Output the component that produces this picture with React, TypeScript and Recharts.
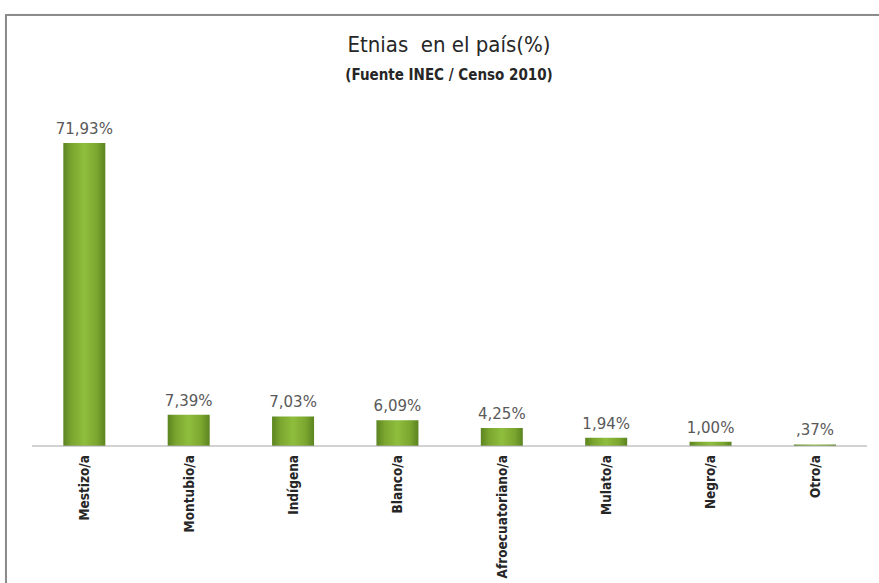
import React from "react";
import { BarChart, Bar, XAxis, YAxis, LabelList } from "recharts";

const categories = [
    "Mestizo/a",
    "Montubio/a",
    "Indígena",
    "Blanco/a",
    "Afroecuatoriano/a",
    "Mulato/a",
    "Negro/a",
    "Otro/a",
];

const percentages = [71.93, 7.39, 7.03, 6.09, 4.25, 1.94, 1.0, 0.37];

const data = categories.map((name, i) => ({ name, value: percentages[i] }));

// "0,37%" is written ",37%" in the source chart
const formatPct = (v: number) => v.toFixed(2).replace(".", ",").replace(/^0,/, ",") + "%";

const CategoryTick = (props: any) => {
    const { x, y, payload } = props;
    return (
        <g transform={`translate(${x},${y + 1})`}>
            <text
                transform="rotate(-90)"
                textAnchor="end"
                dy={5}
                fill="#262626"
                fontSize={13.5}
                fontWeight="bold"
                fontFamily="'DejaVu Sans Condensed', 'DejaVu Sans', sans-serif"
            >
                {payload.value}
            </text>
        </g>
    );
};

const EtniasChart = () => {
    return (
        <div style={{ position: "absolute", left: 0, top: 0, width: 879, height: 583, background: "#fff", overflow: "hidden" }}>
            <div
                style={{
                    position: "absolute",
                    left: 5,
                    top: 14,
                    width: 900,
                    height: 600,
                    border: "2px solid #8c8c8c",
                    boxShadow: "1px 1px 2px #bbb",
                }}
            />
            <div
                style={{
                    position: "absolute",
                    left: 0,
                    width: 898,
                    top: 31,
                    textAlign: "center",
                    fontFamily: "'DejaVu Sans Condensed', 'DejaVu Sans', sans-serif",
                    color: "#262626",
                    whiteSpace: "pre",
                }}
            >
                <div style={{ fontSize: 22, lineHeight: "28px" }}>Etnias  en el país(%)</div>
                <div style={{ fontSize: 15, fontWeight: "bold", lineHeight: "32px" }}>(Fuente INEC / Censo 2010)</div>
            </div>
            <BarChart
                style={{ position: "absolute", left: 0, top: 0 }}
                width={879}
                height={583}
                data={data}
                margin={{ top: 109, right: 12, left: 32, bottom: 107 }}
                barCategoryGap="30%"
            >
                <defs>
                    <linearGradient id="barGreen" x1="0" y1="0" x2="1" y2="0">
                        <stop offset="0%" stopColor="#5b8420" />
                        <stop offset="20%" stopColor="#7ba62f" />
                        <stop offset="50%" stopColor="#8fbe3d" />
                        <stop offset="80%" stopColor="#7ba62f" />
                        <stop offset="100%" stopColor="#5b8420" />
                    </linearGradient>
                </defs>
                <XAxis
                    dataKey="name"
                    axisLine={{ stroke: "#a6a6a6" }}
                    tickLine={false}
                    interval={0}
                    tick={<CategoryTick />}
                />
                <YAxis hide domain={[0, 80]} />
                <Bar dataKey="value" fill="url(#barGreen)" isAnimationActive={false}>
                    <LabelList
                        dataKey="value"
                        position="top"
                        offset={9}
                        formatter={(v: any) => formatPct(Number(v))}
                        fill="#595959"
                        fontSize={15}
                        fontFamily="'DejaVu Sans', sans-serif"
                    />
                </Bar>
            </BarChart>
        </div>
    );
};

export default function App() {
    return <EtniasChart />;
}
